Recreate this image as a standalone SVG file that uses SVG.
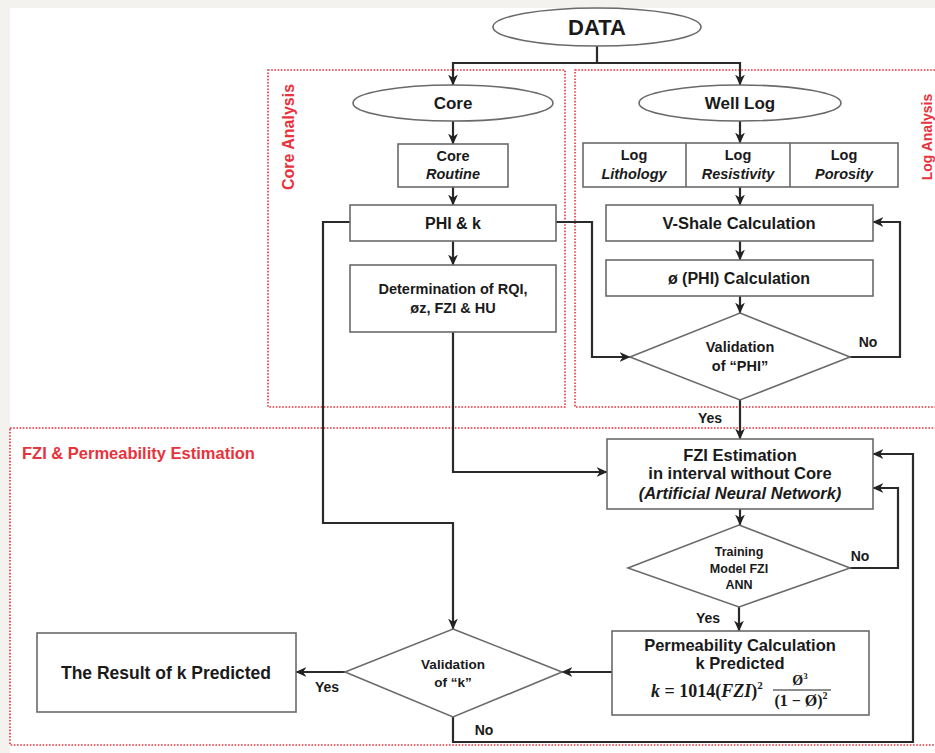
<svg xmlns="http://www.w3.org/2000/svg" width="935" height="753" viewBox="0 0 935 753">
<defs>
<marker id="ah" viewBox="0 0 10 10" refX="9.5" refY="5" markerWidth="11" markerHeight="11" markerUnits="userSpaceOnUse" orient="auto">
<path d="M0,0.5 L10,5 L0,9.5 L3,5 z" fill="#222"/>
</marker>
</defs>
<style>
.t{font-family:"Liberation Sans",Arial,sans-serif;font-weight:bold;fill:#1a1a1a;text-anchor:middle}
.i{font-style:italic}
.red{font-family:"Liberation Sans",Arial,sans-serif;font-weight:bold;fill:#e8323c}
.box{fill:#fff;stroke:#6a6a6a;stroke-width:1.6}
.dot{fill:none;stroke:#e8323c;stroke-width:1.6;stroke-dasharray:1.6 1.6}
.c{fill:none;stroke:#2a2a2a;stroke-width:2.2}
.a{marker-end:url(#ah)}
.lbl{font-family:"Liberation Sans",Arial,sans-serif;font-weight:bold;fill:#1a1a1a;font-size:14px;text-anchor:middle}
.m{font-family:"Liberation Serif","Times New Roman",serif;font-weight:bold;fill:#1a1a1a}
</style>
<rect x="0" y="0" width="935" height="753" fill="#f4f2ee"/>
<rect x="10" y="8" width="925" height="745" fill="#fff"/>

<g id="regions">
<rect class="dot" x="268" y="70" width="297" height="337"/>
<rect class="dot" x="575" y="70" width="372" height="337"/>
<rect class="dot" x="10" y="428" width="937" height="317"/>
<text class="red" font-size="16" text-anchor="middle" transform="translate(294,137) rotate(-90)">Core Analysis</text>
<text class="red" font-size="14" text-anchor="middle" transform="translate(932,137) rotate(-90)">Log Analysis</text>
<text class="red" font-size="16.5" x="22" y="459">FZI &amp; Permeability Estimation</text>
</g>

<g id="connectors">
<path class="c" d="M597,46 V63 M453,63 H740"/>
<path class="c a" d="M453,62 V85"/>
<path class="c a" d="M740,62 V85"/>
<path class="c a" d="M453,121 V144"/>
<path class="c a" d="M740,121 V143"/>
<path class="c a" d="M453,187 V205"/>
<path class="c a" d="M740,187 V205"/>
<path class="c a" d="M740,241 V260"/>
<path class="c a" d="M740,296 V313"/>
<path class="c a" d="M556,222 H592 V357 H630"/>
<path class="c a" d="M850,357 H900 V222 H873"/>
<path class="c a" d="M453,241 V265"/>
<path class="c a" d="M453,332 V472 H607"/>
<path class="c a" d="M350,222 H323 V523 H453 V629"/>
<path class="c a" d="M740,400 V439"/>
<path class="c a" d="M740,509 V525"/>
<path class="c a" d="M850,568 H898 V488 H873"/>
<path class="c a" d="M739,607 V631"/>
<path class="c a" d="M612,672 H562"/>
<path class="c a" d="M345,672 H296"/>
<path class="c a" d="M453,717 V742 H913 V454 H873"/>
<text class="lbl" x="868" y="347">No</text>
<text class="lbl" x="710" y="423">Yes</text>
<text class="lbl" x="860" y="561">No</text>
<text class="lbl" x="708" y="623">Yes</text>
<text class="lbl" x="327" y="692">Yes</text>
<text class="lbl" x="484" y="735">No</text>
</g>

<g id="data">
<ellipse class="box" cx="597" cy="27" rx="104" ry="19"/>
<text class="t" x="597" y="35" font-size="22">DATA</text>
</g>
<g id="core">
<ellipse class="box" cx="453" cy="103" rx="100" ry="18"/>
<text class="t" x="453" y="109" font-size="17">Core</text>
</g>
<g id="welllog">
<ellipse class="box" cx="740" cy="103" rx="101" ry="18"/>
<text class="t" x="740" y="109" font-size="17">Well Log</text>
</g>
<g id="core-routine">
<rect class="box" x="398" y="144" width="110" height="43"/>
<text class="t" x="453" y="161" font-size="14.5">Core</text>
<text class="t i" x="453" y="179" font-size="14.5">Routine</text>
</g>
<g id="logs">
<rect class="box" x="583" y="143" width="315" height="44"/>
<line x1="686" y1="143" x2="686" y2="187" stroke="#6a6a6a" stroke-width="1.6"/>
<line x1="790" y1="143" x2="790" y2="187" stroke="#6a6a6a" stroke-width="1.6"/>
<text class="t" x="634" y="160" font-size="14.5">Log</text>
<text class="t i" x="634" y="179" font-size="14.5">Lithology</text>
<text class="t" x="738" y="160" font-size="14.5">Log</text>
<text class="t i" x="738" y="179" font-size="14.5">Resistivity</text>
<text class="t" x="844" y="160" font-size="14.5">Log</text>
<text class="t i" x="844" y="179" font-size="14.5">Porosity</text>
</g>
<g id="phik">
<rect class="box" x="350" y="205" width="206" height="36"/>
<text class="t" x="453" y="229" font-size="16">PHI &amp; k</text>
</g>
<g id="vshale">
<rect class="box" x="606" y="205" width="267" height="36"/>
<text class="t" x="739" y="229" font-size="16.5">V-Shale Calculation</text>
</g>
<g id="phicalc">
<rect class="box" x="606" y="260" width="267" height="36"/>
<text class="t" x="739" y="284" font-size="16">ø (PHI) Calculation</text>
</g>
<g id="determination">
<rect class="box" x="350" y="265" width="206" height="67"/>
<text class="t" x="453" y="294" font-size="14.5">Determination of RQI,</text>
<text class="t" x="453" y="313" font-size="14.5">øz, FZI &amp; HU</text>
</g>
<g id="valphi">
<polygon class="box" points="740,313 850,357 740,400 630,357"/>
<text class="t" x="740" y="352" font-size="14.5">Validation</text>
<text class="t" x="740" y="371" font-size="14.5">of “PHI”</text>
</g>
<g id="fzi">
<rect class="box" x="607" y="439" width="266" height="70"/>
<text class="t" x="740" y="461" font-size="16.5">FZI Estimation</text>
<text class="t" x="740" y="479" font-size="16.5">in interval without Core</text>
<text class="t i" x="740" y="499" font-size="16.5">(Artificial Neural Network)</text>
</g>
<g id="training">
<polygon class="box" points="739,525 850,568 739,607 628,568"/>
<text class="t" x="739" y="556" font-size="12.5">Training</text>
<text class="t" x="739" y="573" font-size="12.5">Model FZI</text>
<text class="t" x="739" y="589" font-size="12.5">ANN</text>
</g>
<g id="permeability">
<rect class="box" x="612" y="631" width="257" height="84"/>
<text class="t" x="740" y="651" font-size="16.5">Permeability Calculation</text>
<text class="t" x="740" y="669" font-size="16.5">k Predicted</text>
<text class="m" x="651" y="697" font-size="18"><tspan font-style="italic">k</tspan> = 1014(<tspan font-style="italic">FZI</tspan>)<tspan dy="-8" font-size="11">2</tspan></text>
<text class="m" x="800" y="685" font-size="14" font-weight="normal" text-anchor="middle">Ø<tspan dy="-6" font-size="9">3</tspan></text>
<line x1="773" y1="690" x2="831" y2="690" stroke="#1a1a1a" stroke-width="1"/>
<text class="m" x="801" y="706" font-size="16" text-anchor="middle">(1 − Ø)<tspan dy="-7" font-size="10">2</tspan></text>
</g>
<g id="valk">
<polygon class="box" points="453,629 562,672 453,717 345,672"/>
<text class="t" x="453" y="669" font-size="13.5">Validation</text>
<text class="t" x="453" y="687" font-size="13.5">of “k”</text>
</g>
<g id="result">
<rect class="box" x="37" y="633" width="259" height="79"/>
<text class="t" x="166" y="679" font-size="17.5">The Result of k Predicted</text>
</g>
</svg>
